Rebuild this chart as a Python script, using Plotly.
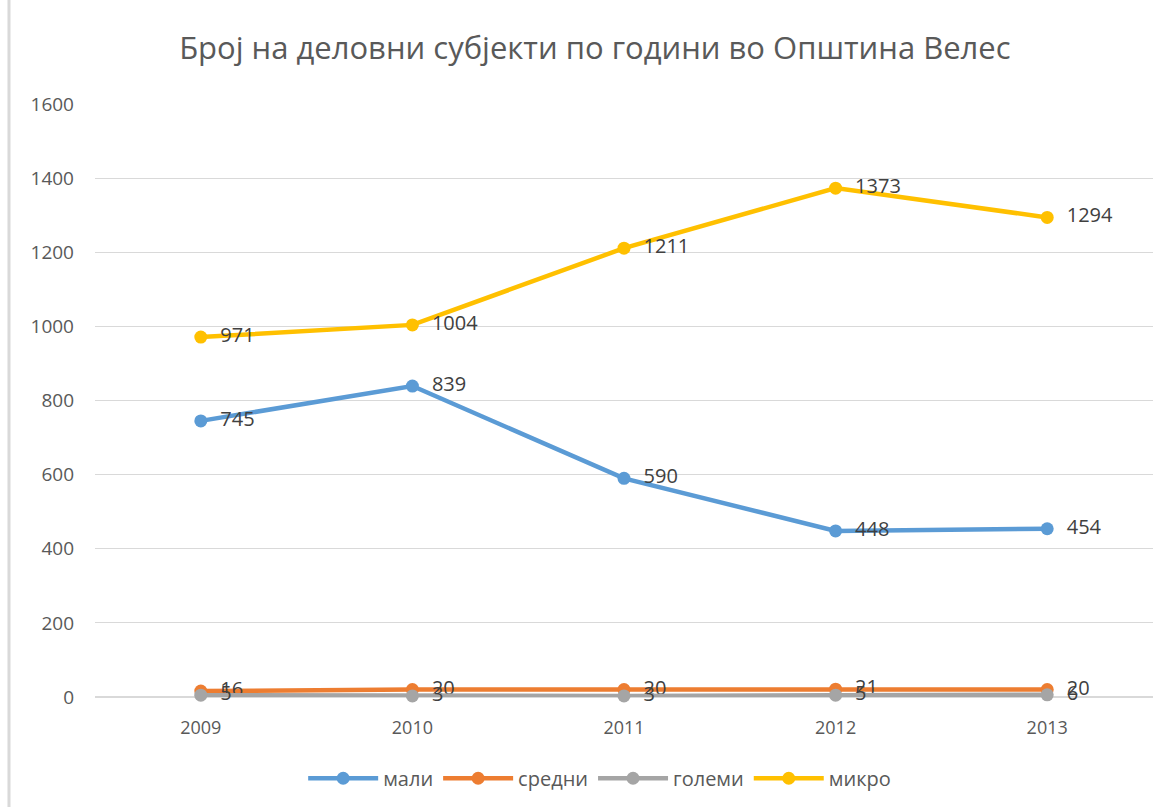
import plotly.graph_objects as go

years = ["2009", "2010", "2011", "2012", "2013"]
mali = [745, 839, 590, 448, 454]
sredni = [16, 20, 20, 21, 20]
golemi = [5, 3, 3, 5, 6]
mikro = [971, 1004, 1211, 1373, 1294]

series = [
    ("мали", mali, "#5B9BD5"),
    ("средни", sredni, "#ED7D31"),
    ("големи", golemi, "#A5A5A5"),
    ("микро", mikro, "#FFC000"),
]

fig = go.Figure()
for name, vals, col in series:
    fig.add_trace(go.Scatter(
        x=years, y=vals, name=name, mode="lines+markers+text",
        line=dict(color=col, width=4.5),
        marker=dict(color=col, size=13),
        text=["  " + str(v) for v in vals],
        textposition="middle right",
        textfont=dict(family="Open Sans", size=20, color="#404040"),
        cliponaxis=False,
    ))

fig.update_layout(
    width=1171, height=807,
    margin=dict(l=95, r=18, t=104, b=110, autoexpand=False),
    paper_bgcolor="white", plot_bgcolor="white",
    title=dict(text="Број на деловни субјекти по години во Општина Велес",
               x=0.508, xanchor="center", y=0.94, yanchor="middle",
               font=dict(family="Open Sans", size=31, color="#595959")),
    xaxis=dict(type="category", range=[-0.5, 4.5], showgrid=False,
               showline=False, zeroline=False, ticks="", ticklabelstandoff=18,
               tickfont=dict(family="Open Sans", size=18, color="#595959")),
    yaxis=dict(range=[0, 1600], dtick=200, showgrid=True, gridcolor="#D9D9D9",
               gridwidth=1, zeroline=True, zerolinecolor="#D9D9D9", showline=False,
               ticks="", ticklabelstandoff=20,
               tickfont=dict(family="Open Sans", size=19, color="#595959")),
    legend=dict(orientation="h", x=0.477, xanchor="center", y=-0.137, yanchor="middle",
                font=dict(family="Open Sans", size=20, color="#595959"),
                itemwidth=70),
    showlegend=True,
    shapes=[dict(type="line", xref="paper", yref="paper",
                 x0=-0.0813, x1=-0.0813, y0=-0.2, y1=1.2,
                 line=dict(color="#D9D9D9", width=3))],
)

fig.write_html("out.html")
